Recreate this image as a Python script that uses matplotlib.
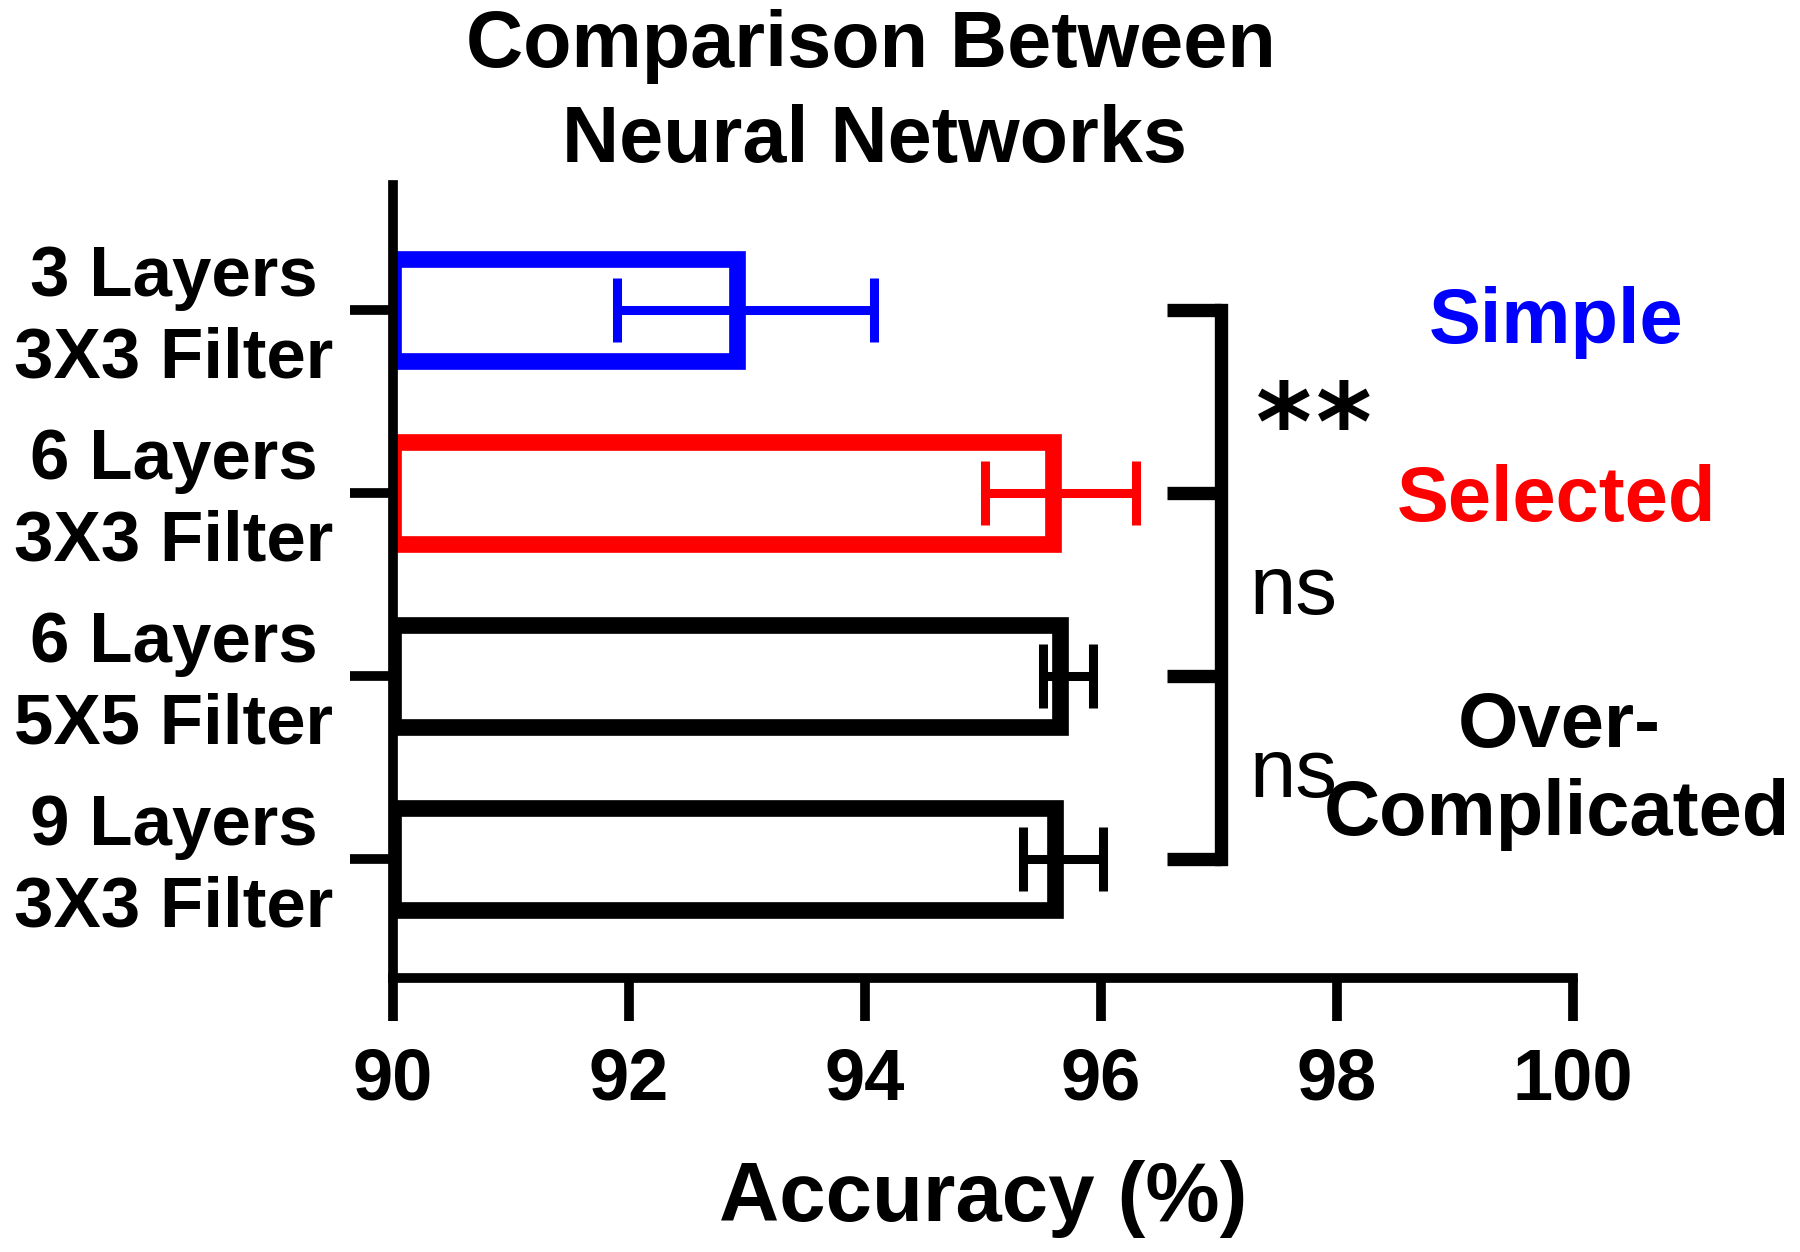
import matplotlib
matplotlib.use("Agg")
import matplotlib.pyplot as plt
import matplotlib.transforms as mtransforms

# data
labels = ["3 Layers\n3X3 Filter", "6 Layers\n3X3 Filter", "6 Layers\n5X5 Filter", "9 Layers\n3X3 Filter"]
accuracy = [92.99, 95.66, 95.72, 95.68]
errors = [1.09, 0.64, 0.21, 0.34]
colors = ["#0000FF", "#FF0000", "black", "black"]
x_ticks = [90, 92, 94, 96, 98, 100]

plt.rcParams["font.family"] = ["Liberation Sans", "DejaVu Sans"]

fig = plt.figure(figsize=(18, 12.52), dpi=100)
ax = fig.add_axes([0.2183, 0.2188, 0.6556, 0.6334])
ax.set_xlim(90, 100)
ax.set_ylim(3.65, -0.683)

# bar outline is drawn inside the bar (outer edge sits on the value)
edge_lw = 12
px_per_unit = fig.get_figwidth() * fig.dpi * 0.6556 / 10
inset = edge_lw * fig.dpi / 72 / 2 / px_per_unit

ypos = list(range(len(labels)))
ax.barh(ypos, [a - 90 - inset for a in accuracy], left=90, height=0.56,
        color="white", edgecolor=colors, linewidth=edge_lw, joinstyle="miter")
for y, a, e, c in zip(ypos, accuracy, errors, colors):
    ax.errorbar(a, y, xerr=e, fmt="none", ecolor=c, elinewidth=6.5,
                capsize=23, capthick=6.5)

ax.set_xticks(x_ticks)
ax.set_xticklabels([str(t) for t in x_ticks], fontsize=52, fontweight="bold")
ax.set_yticks(ypos)
ax.set_yticklabels(labels, fontsize=51, fontweight="bold", linespacing=1.32,
                   multialignment="center")
for side in ["top", "right"]:
    ax.spines[side].set_visible(False)
for side in ["left", "bottom"]:
    ax.spines[side].set_linewidth(7)
    ax.spines[side].set_zorder(3)
ax.tick_params(axis="both", width=7, length=31)
ax.tick_params(axis="y", pad=12)
ax.tick_params(axis="x", pad=18)
# nudge the two-line category labels up a little (after tick_params, which resets transforms)
shift = mtransforms.ScaledTranslation(0, 5 / 72, fig.dpi_scale_trans)
for lab in ax.get_yticklabels():
    lab.set_transform(lab.get_transform() + shift)
ax.set_xlabel("Accuracy (%)", fontsize=60, fontweight="bold", labelpad=33)

# significance bracket
bx = 97.02
ax.plot([bx, bx], [0, 3], color="black", lw=9.6, clip_on=False, solid_capstyle="projecting")
for y in ypos:
    ax.plot([96.56, bx], [y, y], color="black", lw=9.6, clip_on=False, solid_capstyle="butt")
for sx in [97.31, 97.82]:
    ax.text(sx, 0.82, "*", fontsize=77, fontweight="bold", family="DejaVu Sans",
            va="baseline", ha="left")
ax.text(97.26, 1.66, "ns", fontsize=60, va="baseline", ha="left")
ax.text(97.26, 2.66, "ns", fontsize=60, va="baseline", ha="left")

# group labels
ax.text(99.86, 0.18, "Simple", color="#0000FF", fontsize=56, fontweight="bold",
        ha="center", va="baseline", clip_on=False)
ax.text(99.86, 1.15, "Selected", color="#FF0000", fontsize=56, fontweight="bold",
        ha="center", va="baseline", clip_on=False)
ax.text(99.88, 2.39, "Over-", fontsize=56, fontweight="bold",
        ha="center", va="baseline", clip_on=False)
ax.text(99.86, 2.87, "Complicated", fontsize=56, fontweight="bold",
        ha="center", va="baseline", clip_on=False)

fig.text(0.484, 1 - 67 / 1252, "Comparison Between", fontsize=57, fontweight="bold",
         ha="center", va="baseline")
fig.text(0.486, 1 - 162 / 1252, "Neural Networks", fontsize=57, fontweight="bold",
         ha="center", va="baseline")

fig.savefig("out.png", dpi=100)
